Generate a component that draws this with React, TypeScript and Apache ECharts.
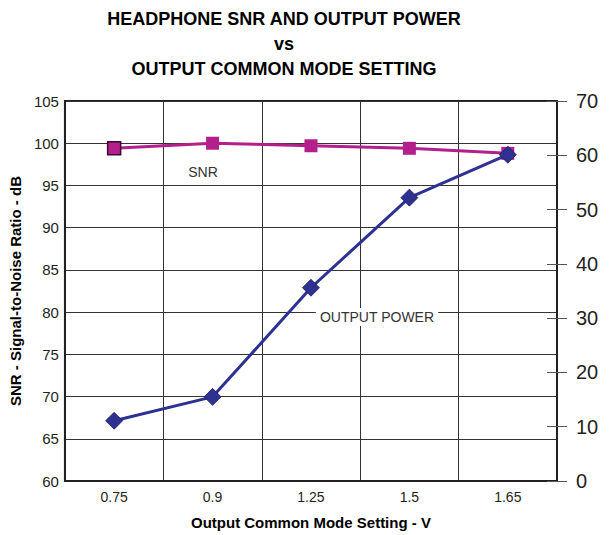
import React, { useEffect, useRef } from "react";
import * as echarts from "echarts";

const categories = ["0.75", "0.9", "1.25", "1.5", "1.65"];
const snrValues = [99.4, 100, 99.7, 99.4, 98.8];
const powerValues = [11.1, 15.5, 35.6, 52.2, 60.1];
const leftTicks = { min: 60, max: 105, interval: 5 };
const rightTicks = { min: 0, max: 70, interval: 10 };
const titleLines = ["HEADPHONE SNR AND OUTPUT POWER", "vs", "OUTPUT COMMON MODE SETTING"];

const FONT = "Liberation Sans, Arial, Helvetica, sans-serif";
const INK = "#231f20";
const MAGENTA = "#b3208c";
const BLUE = "#2e3192";

export default function App() {
  const ref = useRef<HTMLDivElement>(null);
  useEffect(() => {
    if (!ref.current) return;
    const chart = echarts.init(ref.current, undefined, { renderer: "svg" });
    chart.setOption({
      animation: false,
      backgroundColor: "#ffffff",
      textStyle: { fontFamily: FONT },
      grid: {
        left: 61,
        right: 52,
        top: 101,
        bottom: 53,
        show: true,
        borderColor: INK,
        borderWidth: 2,
        backgroundColor: "transparent",
      },
      graphic: [
        {
          type: "text",
          x: 284,
          y: 6,
          style: {
            text: titleLines.join("\n"),
            fontFamily: FONT,
            fontSize: 18,
            fontWeight: "bold",
            lineHeight: 25,
            fill: "#000",
            textAlign: "center",
            textVerticalAlign: "top",
          },
        },
        {
          type: "text",
          x: 203,
          y: 172,
          z: 10,
          style: {
            text: "SNR",
            fontFamily: FONT,
            fontSize: 14,
            fill: "#333",
            textAlign: "center",
            textVerticalAlign: "middle",
          },
        },
        {
          type: "text",
          x: 377,
          y: 317,
          z: 10,
          style: {
            text: "OUTPUT POWER",
            fontFamily: FONT,
            fontSize: 14,
            fill: "#333",
            textAlign: "center",
            textVerticalAlign: "middle",
            backgroundColor: "#fff",
            padding: [2, 4],
          },
        },
      ],
      xAxis: {
        type: "category",
        data: categories,
        boundaryGap: true,
        name: "Output Common Mode Setting - V",
        nameLocation: "middle",
        nameGap: 34,
        nameTextStyle: { fontFamily: FONT, fontSize: 15, fontWeight: "bold", color: "#000" },
        axisLine: { show: true, lineStyle: { color: INK, width: 2 } },
        axisTick: { show: false },
        axisLabel: { fontFamily: FONT, fontSize: 14, color: INK, margin: 9 },
        splitLine: { show: true, lineStyle: { color: "#333", width: 1 } },
      },
      yAxis: [
        {
          type: "value",
          position: "left",
          min: leftTicks.min,
          max: leftTicks.max,
          interval: leftTicks.interval,
          name: "SNR - Signal-to-Noise Ratio - dB",
          nameLocation: "middle",
          nameGap: 37,
          nameTextStyle: { fontFamily: FONT, fontSize: 15, fontWeight: "bold", color: "#000" },
          axisLine: { show: true, lineStyle: { color: INK, width: 2 } },
          axisTick: { show: false },
          axisLabel: { fontFamily: FONT, fontSize: 15, color: INK, margin: 6 },
          splitLine: { show: true, lineStyle: { color: "#333", width: 1 } },
        },
        {
          type: "value",
          position: "right",
          min: rightTicks.min,
          max: rightTicks.max,
          interval: rightTicks.interval,
          axisLine: { show: true, lineStyle: { color: INK, width: 2 } },
          axisTick: { show: true, length: 10, lineStyle: { color: "#555", width: 1 } },
          axisLabel: { fontFamily: FONT, fontSize: 20, color: INK, margin: 19 },
          splitLine: { show: false },
        },
        {
          type: "value",
          position: "right",
          min: rightTicks.min,
          max: rightTicks.max,
          interval: rightTicks.interval,
          axisLine: { show: false },
          axisTick: { show: true, inside: true, length: 10, lineStyle: { color: "#555", width: 1 } },
          axisLabel: { show: false },
          splitLine: { show: false },
        },
      ],
      series: [
        {
          name: "SNR",
          type: "line",
          yAxisIndex: 0,
          data: snrValues.map((v, i) =>
            i === 0
              ? { value: v, itemStyle: { color: MAGENTA, borderColor: "#3a0a2f", borderWidth: 1.5 } }
              : v
          ),
          symbol: "rect",
          symbolSize: 13,
          lineStyle: { color: MAGENTA, width: 3 },
          itemStyle: { color: MAGENTA, borderWidth: 0 },
          z: 3,
        },
        {
          name: "OUTPUT POWER",
          type: "line",
          yAxisIndex: 1,
          data: powerValues,
          symbol: "diamond",
          symbolSize: 17,
          lineStyle: { color: BLUE, width: 3 },
          itemStyle: { color: BLUE, borderColor: "#1a1c5e", borderWidth: 0.8 },
          z: 4,
        },
      ],
    });
    return () => chart.dispose();
  }, []);
  return (
    <div
      ref={ref}
      style={{ position: "fixed", left: 0, top: 0, width: 609, height: 535, background: "#fff" }}
    />
  );
}
